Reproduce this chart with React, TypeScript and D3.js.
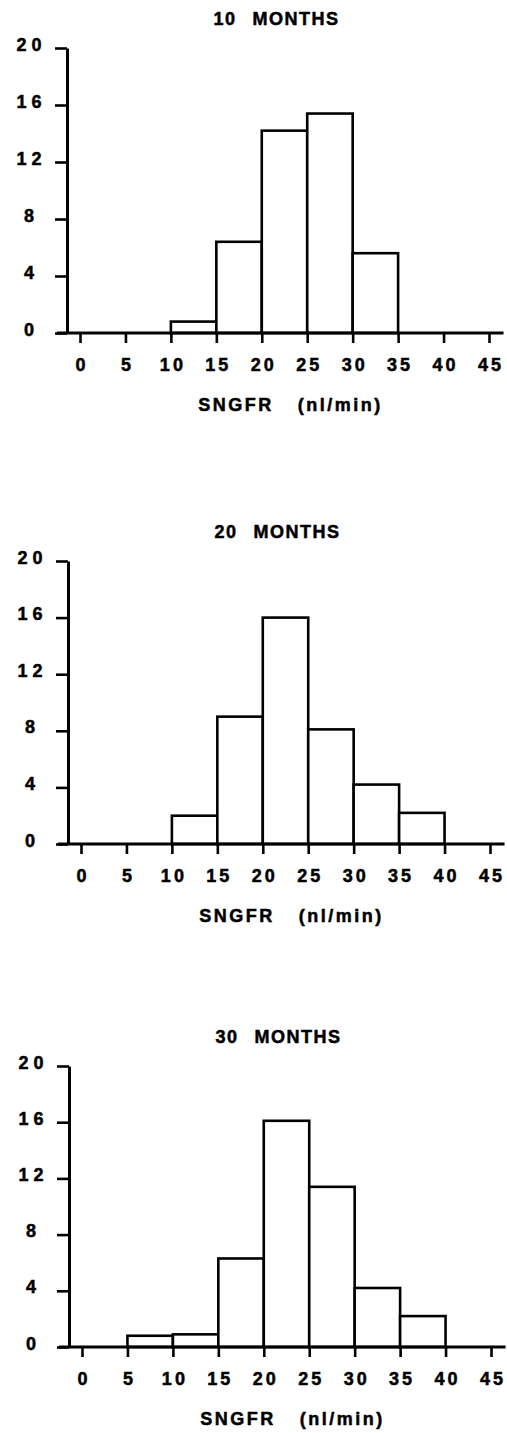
import React, { useEffect, useRef } from "react";
import * as d3 from "d3";

// SNGFR bins (nl/min) and per-bin frequencies
const binEdges = [0, 5, 10, 15, 20, 25, 30, 35, 40, 45];
const yTickValues = [0, 4, 8, 12, 16, 20];
const panelMonths = ["10", "20", "30"];
const counts10 = [0, 0, 0.8, 6.4, 14.2, 15.4, 5.6, 0, 0];
const counts20 = [0, 0, 2.0, 9.0, 16.0, 8.1, 4.2, 2.2, 0];
const counts30 = [0, 0.8, 0.9, 6.3, 16.1, 11.4, 4.2, 2.2, 0];
const allCounts = [counts10, counts20, counts30];

const xTitle = "SNGFR";
const xUnit = "(nl/min)";

const WIDTH = 507;
const HEIGHT = 1433;
const FONT = "'Liberation Sans', Arial, Helvetica, sans-serif";

// where each panel sits on the page (scan is a bit skewed)
const panels = [
  { dx: 0, top: 48, bottom: 333 },
  { dx: 1, top: 561, bottom: 844 },
  { dx: 2, top: 1066, bottom: 1347 },
];

const boldText = (sel: any, size: number, spacing: number) =>
  sel
    .style("font-family", FONT)
    .style("font-weight", "bold")
    .style("font-size", `${size}px`)
    .style("letter-spacing", `${spacing}px`)
    .attr("fill", "#000")
    .attr("stroke", "#000")
    .attr("stroke-width", 0.5);

const SNGFRHistograms = () => {
  const svgRef = useRef<SVGSVGElement>(null);

  useEffect(() => {
    const root = d3.select(svgRef.current);
    root.selectAll("*").remove();

    panels.forEach((p, i) => {
      const counts = allCounts[i];
      const g = root.append("g");

      const x = d3
        .scaleLinear()
        .domain([0, 45])
        .range([80 + p.dx, 489 + p.dx]);

      const y = d3.scaleLinear().domain([0, 20]).range([p.bottom, p.top]);

      const yAxisX = x(0) - 13;

      // bars
      const bins = counts
        .map((v, k) => ({ lo: binEdges[k], hi: binEdges[k + 1], v }))
        .filter((d) => d.v > 0);

      g.selectAll(".bar")
        .data(bins)
        .enter()
        .append("rect")
        .attr("x", (d) => x(d.lo))
        .attr("y", (d) => y(d.v))
        .attr("width", (d) => x(d.hi) - x(d.lo))
        .attr("height", (d) => y(0) - y(d.v))
        .attr("fill", "#fff")
        .attr("stroke", "#000")
        .attr("stroke-width", 2.6);

      // y axis
      const yAxis = d3
        .axisLeft(y)
        .tickValues(yTickValues)
        .tickSize(12)
        .tickSizeOuter(0)
        .tickFormat(d3.format("d"));

      const yg = g
        .append("g")
        .attr("transform", `translate(${yAxisX},0)`)
        .call(yAxis);
      yg.select(".domain").attr("stroke-width", 3);
      yg.selectAll(".tick line").attr("stroke-width", 2.6);
      boldText(
        yg
          .selectAll("text")
          .attr("x", -38 + 2.5)
          .attr("y", 2)
          .attr("dy", null)
          .attr("text-anchor", "middle"),
        18,
        5
      );

      // x axis
      const xAxis = d3
        .axisBottom(x)
        .tickValues(binEdges)
        .tickSize(10)
        .tickSizeOuter(0)
        .tickFormat(d3.format("d"));

      const xg = g
        .append("g")
        .attr("transform", `translate(0,${p.bottom})`)
        .call(xAxis);
      xg.select(".domain").remove();
      xg.selectAll(".tick line").attr("stroke-width", 2.6);
      boldText(
        xg.selectAll("text").attr("x", 1.5).attr("y", 38).attr("dy", null),
        18,
        3
      );

      g.append("line")
        .attr("x1", yAxisX - 10)
        .attr("x2", Math.min(x(46.6), WIDTH))
        .attr("y1", p.bottom)
        .attr("y2", p.bottom)
        .attr("stroke", "#000")
        .attr("stroke-width", 3);

      // panel title
      const t = boldText(
        g
          .append("text")
          .attr("x", x(22.5) - 8)
          .attr("y", p.top - 23)
          .attr("text-anchor", "middle"),
        18,
        1.5
      );
      t.append("tspan").text(panelMonths[i]);
      t.append("tspan").attr("dx", 16).text("MONTHS");

      // x title
      const xt = boldText(
        g
          .append("text")
          .attr("x", x(22.5) + 6)
          .attr("y", p.bottom + 78)
          .attr("text-anchor", "middle"),
        18,
        2.5
      );
      xt.append("tspan").text(xTitle);
      xt.append("tspan").attr("dx", 24).text(xUnit);
    });
  }, []);

  return (
    <svg
      ref={svgRef}
      width={WIDTH}
      height={HEIGHT}
      style={{ position: "absolute", left: 0, top: 0, background: "#fff" }}
    ></svg>
  );
};

export default function App() {
  return <SNGFRHistograms />;
}
